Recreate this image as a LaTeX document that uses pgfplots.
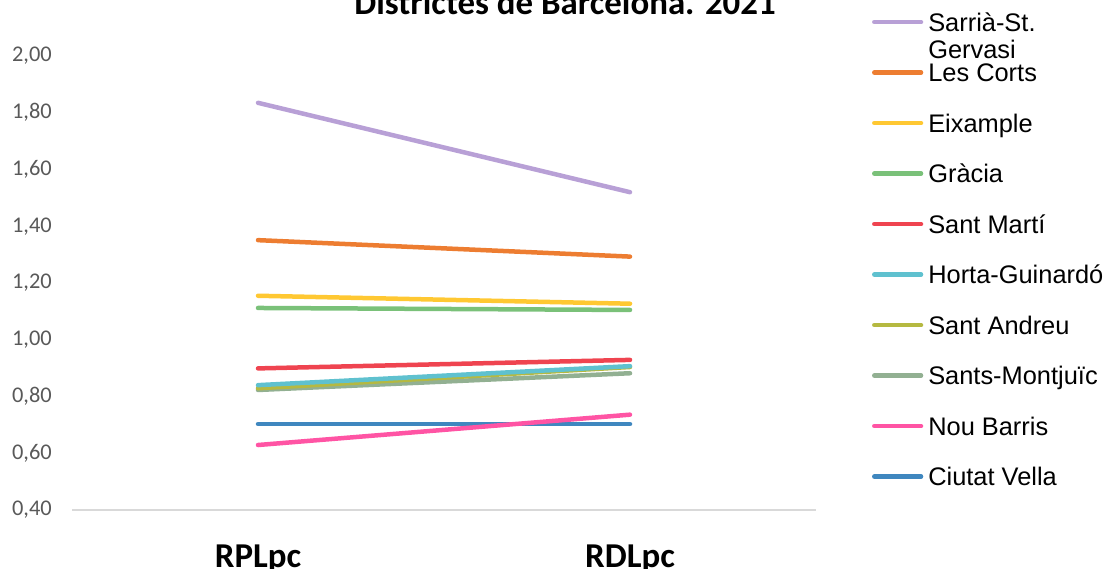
\documentclass[border=0pt]{standalone}
\usepackage{fontspec}
\setmainfont{Carlito}
\newfontfamily\legfont{Liberation Sans}
\usepackage{pgfplots}
\pgfplotsset{compat=1.18}

\definecolor{csarria}{HTML}{B8A0D6}
\definecolor{ccorts}{HTML}{ED7D31}
\definecolor{ceixample}{HTML}{FFC832}
\definecolor{cgracia}{HTML}{7AC179}
\definecolor{cmarti}{HTML}{EF4450}
\definecolor{chorta}{HTML}{5FC1CF}
\definecolor{candreu}{HTML}{B5B941}
\definecolor{csants}{HTML}{92B092}
\definecolor{cnou}{HTML}{FF54A4}
\definecolor{cciutat}{HTML}{3F87BF}
\definecolor{ticktext}{HTML}{595959}
\definecolor{gridc}{HTML}{D9D9D9}

\begin{document}
\begin{tikzpicture}
\useasboundingbox (0,0) rectangle (1105bp,569bp);
\clip (0,0) rectangle (1105bp,569bp);

\node[font=\fontsize{35}{35}\selectfont\bfseries, anchor=base] at (565bp,554bp)
  {Districtes de Barcelona. 2021};

\begin{axis}[
  at={(72bp,59bp)}, anchor=south west,
  scale only axis, width=744bp, height=454bp,
  xmin=-0.5, xmax=1.5, ymin=0.4, ymax=2.0,
  xtick={0,1}, xticklabels={RPLpc,RDLpc},
  ytick={0.4,0.6,0.8,1.0,1.2,1.4,1.6,1.8,2.0},
  separate axis lines,
  axis x line*=bottom, axis y line*=left,
  x axis line style={draw=gridc, line width=1.5bp, -},
  y axis line style={draw=none},
  major tick length=0pt,
  xticklabel style={font=\fontsize{35}{35}\selectfont\bfseries, anchor=base, inner sep=0pt, yshift=-57.5bp},
  yticklabel style={font=\fontsize{22.5}{22.5}\selectfont, text=ticktext, anchor=east, inner sep=0pt, xshift=-20bp,
    /pgf/number format/fixed, /pgf/number format/fixed zerofill,
    /pgf/number format/precision=2, /pgf/number format/use comma,
    /pgf/number format/assume math mode=true},
  every axis plot/.append style={line width=4.5bp, line cap=round, mark=none},
  reverse legend,
  legend cell align=left,
  legend image code/.code={\draw[line width=4.5bp, line cap=round] (2.25bp,0bp) -- (49bp,0bp);},
  legend style={at={(axis description cs:1.0753,1.1304)}, anchor=north west,
    draw=none, fill=none, inner sep=0pt, outer sep=0pt, row sep=0pt, column sep=5bp,
    font=\legfont\fontsize{25.5}{27}\selectfont,
    nodes={inner sep=0pt, anchor=west, text height=34.4bp, text depth=16.1bp}},
]
\addplot[color=cciutat] coordinates {(0,0.703) (1,0.703)};
\addlegendentry{Ciutat Vella}
\addplot[color=cnou] coordinates {(0,0.629) (1,0.736)};
\addlegendentry{Nou Barris}
\addplot[color=csants] coordinates {(0,0.823) (1,0.882)};
\addlegendentry{Sants-Montjuïc}
\addplot[color=candreu] coordinates {(0,0.829) (1,0.904)};
\addlegendentry{Sant Andreu}
\addplot[color=chorta] coordinates {(0,0.840) (1,0.907)};
\addlegendentry{Horta-Guinardó}
\addplot[color=cmarti] coordinates {(0,0.899) (1,0.929)};
\addlegendentry{Sant Martí}
\addplot[color=cgracia] coordinates {(0,1.112) (1,1.105)};
\addlegendentry{Gràcia}
\addplot[color=ceixample] coordinates {(0,1.155) (1,1.127)};
\addlegendentry{Eixample}
\addplot[color=ccorts] coordinates {(0,1.351) (1,1.293)};
\addlegendentry{Les Corts}
\addplot[color=csarria] coordinates {(0,1.835) (1,1.520)};
\addlegendentry{\begin{tabular}[t]{@{}l@{}}Sarrià-St.\\Gervasi\end{tabular}}
\end{axis}
\end{tikzpicture}
\end{document}
